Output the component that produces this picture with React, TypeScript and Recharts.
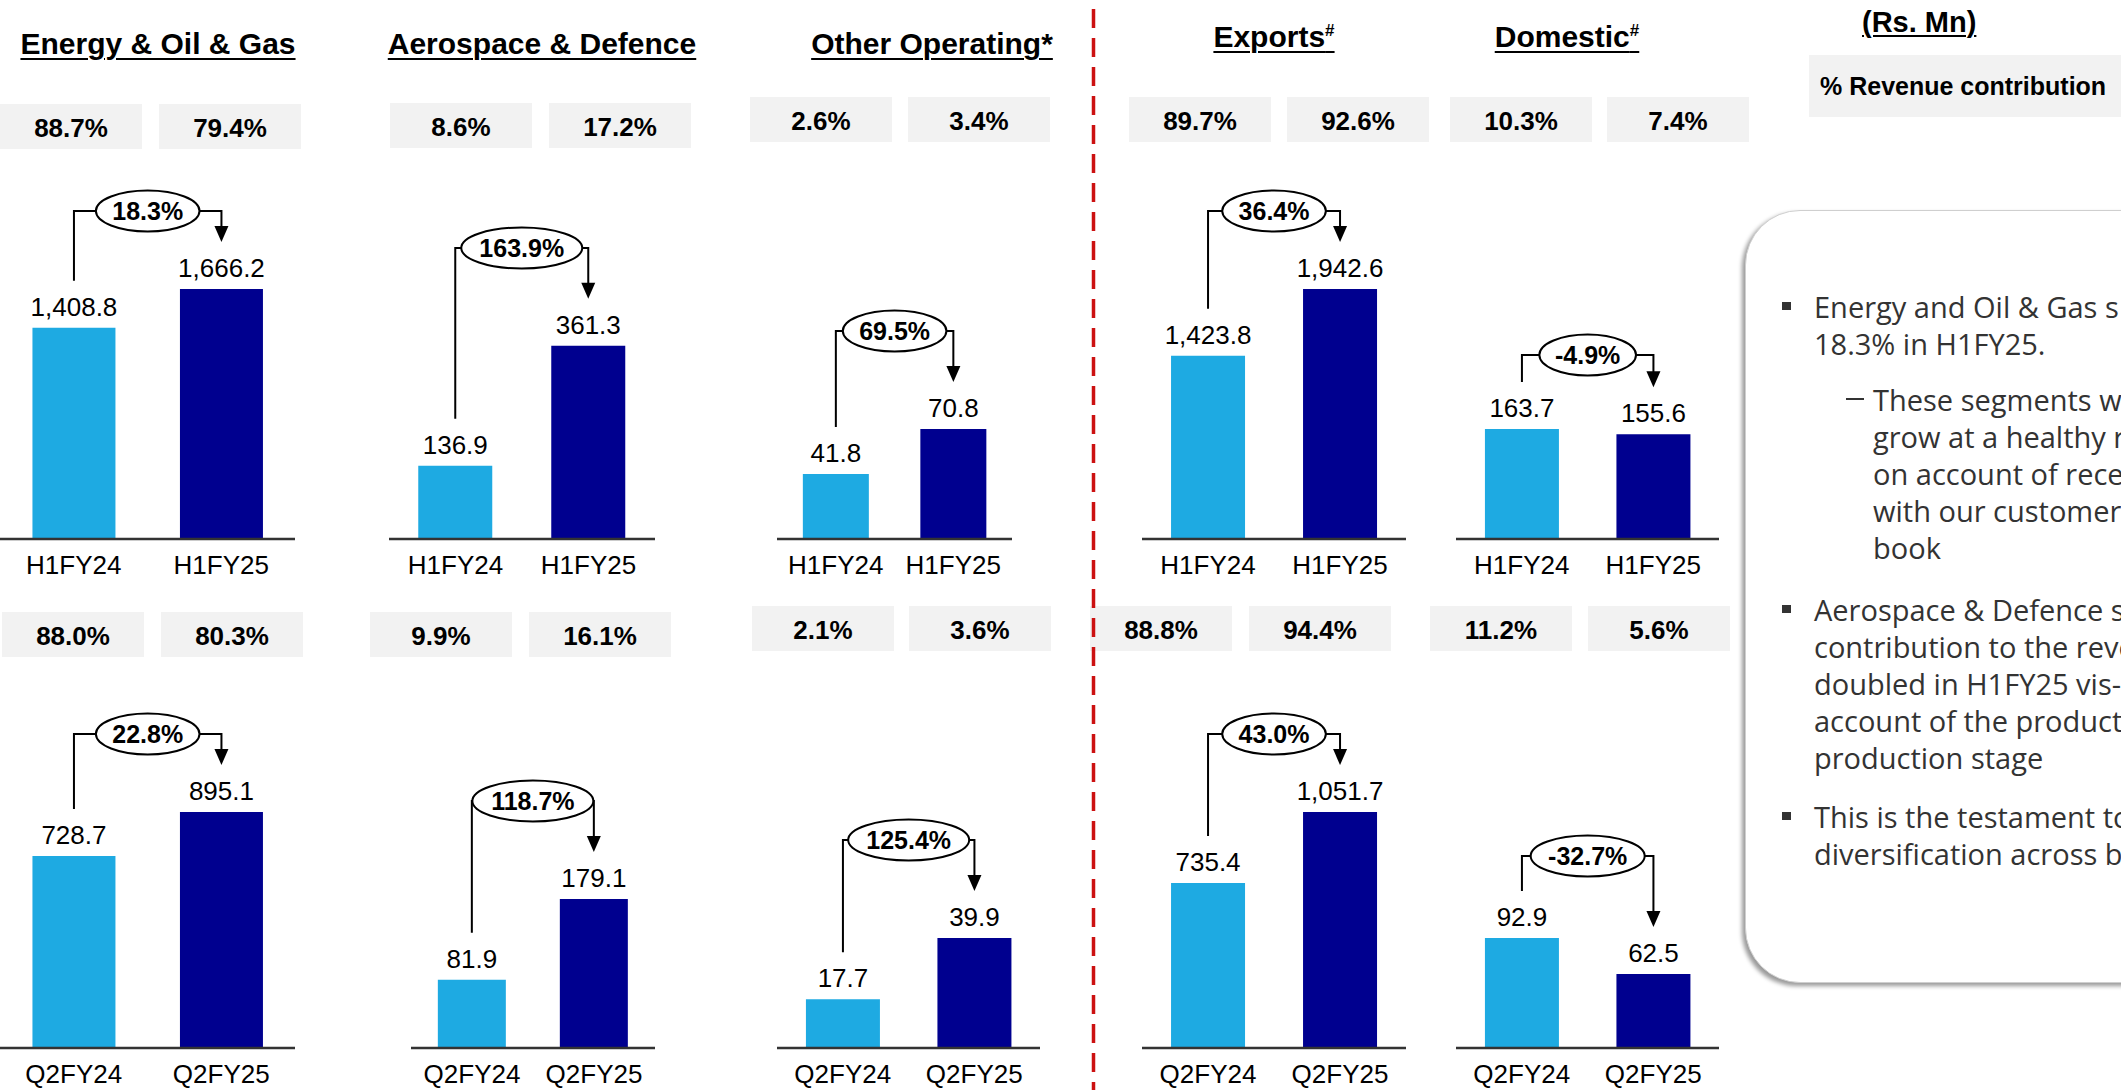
import React from "react";
import { BarChart, Bar, XAxis, YAxis, Cell, LabelList } from "recharts";

// ---- data ----
const H1_PERIODS = ["H1FY24", "H1FY25"];
const Q2_PERIODS = ["Q2FY24", "Q2FY25"];
const SEGMENTS = ["Energy & Oil & Gas", "Aerospace & Defence", "Other Operating*", "Exports", "Domestic"];
const SEGMENT_MARKS = ["", "", "", "#", "#"];

const H1_VALUES = [
  [1408.8, 1666.2],
  [136.9, 361.3],
  [41.8, 70.8],
  [1423.8, 1942.6],
  [163.7, 155.6],
];
const Q2_VALUES = [
  [728.7, 895.1],
  [81.9, 179.1],
  [17.7, 39.9],
  [735.4, 1051.7],
  [92.9, 62.5],
];
const H1_SHARE = [["88.7%", "79.4%"], ["8.6%", "17.2%"], ["2.6%", "3.4%"], ["89.7%", "92.6%"], ["10.3%", "7.4%"]];
const Q2_SHARE = [["88.0%", "80.3%"], ["9.9%", "16.1%"], ["2.1%", "3.6%"], ["88.8%", "94.4%"], ["11.2%", "5.6%"]];
const H1_GROWTH = ["18.3%", "163.9%", "69.5%", "36.4%", "-4.9%"];
const Q2_GROWTH = ["22.8%", "118.7%", "125.4%", "43.0%", "-32.7%"];

// ---- layout ----
const FONT = "'Liberation Sans', Arial, sans-serif";
const LIGHT = "#1eaae2";
const DARK = "#00008f";
const AXIS_H = 40;
const BOX_W = 142;
const BOX_H = 45;

const ROWS = [
  { chartTop: 150, chartHeight: 450, plotTop: 239, baseline: 539 },
  { chartTop: 660, chartHeight: 430, plotTop: 748, baseline: 1048 },
];

const TOP_LAYOUT = [
  { left: 0, right: 295, boxes: [0, 159], boxY: 104, arcY: 211, yMax: 2000 },
  { left: 389, right: 655, boxes: [390, 549], boxY: 103, arcY: 248, yMax: 561 },
  { left: 777, right: 1012, boxes: [750, 908], boxY: 97, arcY: 331, yMax: 193 },
  { left: 1142, right: 1406, boxes: [1129, 1287], boxY: 97, arcY: 211, yMax: 2331 },
  { left: 1456, right: 1719, boxes: [1450, 1607], boxY: 97, arcY: 355, yMax: 446 },
];
const BOTTOM_LAYOUT = [
  { left: 0, right: 295, boxes: [2, 161], boxY: 612, arcY: 734, yMax: 1138 },
  { left: 411, right: 655, boxes: [370, 529], boxY: 612, arcY: 801, yMax: 360.6 },
  { left: 777, right: 1040, boxes: [752, 909], boxY: 606, arcY: 840, yMax: 108.8 },
  { left: 1142, right: 1406, boxes: [1090, 1249], boxY: 606, arcY: 734, yMax: 1337 },
  { left: 1456, right: 1719, boxes: [1430, 1588], boxY: 606, arcY: 856, yMax: 253.4 },
];
const TITLE_POS = [
  { cx: 158, cy: 44 },
  { cx: 542, cy: 44 },
  { cx: 932, cy: 44 },
  { cx: 1274, cy: 37 },
  { cx: 1567, cy: 37 },
];

// commentary as it shows on the slide (runs off the right edge)
const NOTES = [
  { kind: "bullet", top: 306, lines: ["Energy and Oil & Gas s", "18.3% in H1FY25."] },
  {
    kind: "dash",
    top: 399,
    lines: ["These segments w", "grow at a healthy r", "on account of rece", "with our customer", "book"],
  },
  {
    kind: "bullet",
    top: 609,
    lines: [
      "Aerospace & Defence s",
      "contribution to the reve",
      "doubled in H1FY25 vis-",
      "account of the product",
      "production stage",
    ],
  },
  { kind: "bullet", top: 816, lines: ["This is the testament to", "diversification across b"] },
];

const fmt = (v: number) => v.toLocaleString("en-US", { minimumFractionDigits: 1, maximumFractionDigits: 1 });

function textWidth(s: string, size: number) {
  let w = 0;
  for (const ch of s) {
    if (ch === ".") w += 0.278;
    else if (ch === "%") w += 0.889;
    else if (ch === "-") w += 0.333;
    else w += 0.556;
  }
  return w * size;
}

function SegmentChart({ periods, values, growth, layout, row }: any) {
  const data = periods.map((p: string, i: number) => ({ period: p, value: values[i] }));
  const width = layout.right - layout.left;
  const marginTop = row.plotTop - row.chartTop;
  const marginBottom = row.chartTop + row.chartHeight - row.baseline - AXIS_H;
  const arcY = layout.arcY - row.chartTop;

  const renderLabel = (props: any) => {
    const vb = props.viewBox || props;
    const x = Number(vb.x ?? props.x);
    const y = Number(vb.y ?? props.y);
    const w = Number(vb.width ?? props.width);
    const h = Number(vb.height ?? props.height);
    const index = props.index;
    const cx = x + w / 2;
    const label = (
      <text x={cx} y={y - 12} textAnchor="middle" fontSize={26} fill="#000" fontFamily={FONT}>
        {fmt(values[index])}
      </text>
    );
    if (index !== 1) return label;
    // first bar geometry from the same linear scale
    const base = y + h;
    const y0 = base - (h * values[0]) / values[1];
    const x0 = cx - width / 2;
    const startY = y0 - 47;
    const tipY = y - 47;
    const ecx = (x0 + cx) / 2;
    const rx = (textWidth(growth, 25) * 1.25 + 15) / 2;
    return (
      <g>
        {label}
        <path
          d={`M${x0},${startY} L${x0},${arcY} L${cx},${arcY} L${cx},${tipY - 15}`}
          fill="none"
          stroke="#000"
          strokeWidth={2}
        />
        <path d={`M${cx - 7},${tipY - 16} L${cx + 7},${tipY - 16} L${cx},${tipY} Z`} fill="#000" />
        <ellipse cx={ecx} cy={arcY} rx={rx} ry={20.5} fill="#fff" stroke="#000" strokeWidth={2} />
        <text
          x={ecx}
          y={arcY + 9}
          textAnchor="middle"
          fontSize={25}
          fontWeight="bold"
          fill="#000"
          fontFamily={FONT}
        >
          {growth}
        </text>
      </g>
    );
  };

  return (
    <div style={{ position: "absolute", left: layout.left, top: row.chartTop }}>
      <BarChart
        width={width}
        height={row.chartHeight}
        data={data}
        margin={{ top: marginTop, right: 0, bottom: marginBottom, left: 0 }}
        barCategoryGap="22%"
      >
        <XAxis
          dataKey="period"
          axisLine={{ stroke: "#333", strokeWidth: 2.5 }}
          tickLine={false}
          tick={{ fill: "#000", fontSize: 26, fontFamily: FONT }}
          tickMargin={11}
          height={AXIS_H}
          interval={0}
        />
        <YAxis hide domain={[0, layout.yMax]} />
        <Bar dataKey="value" isAnimationActive={false}>
          {data.map((_: any, i: number) => (
            <Cell key={i} fill={i === 0 ? LIGHT : DARK} />
          ))}
          <LabelList content={renderLabel} />
        </Bar>
      </BarChart>
    </div>
  );
}

function ShareBoxes({ shares, layout }: any) {
  return (
    <>
      {shares.map((s: string, i: number) => (
        <div
          key={i}
          style={{
            position: "absolute",
            left: layout.boxes[i],
            top: layout.boxY,
            width: BOX_W,
            height: BOX_H,
            paddingTop: 4,
            boxSizing: "border-box",
            background: "#f2f2f2",
            display: "flex",
            alignItems: "center",
            justifyContent: "center",
            fontWeight: "bold",
            fontSize: 26,
            fontFamily: FONT,
            color: "#000",
          }}
        >
          {s}
        </div>
      ))}
    </>
  );
}

export default function App() {
  return (
    <div
      style={{
        position: "absolute",
        left: 0,
        top: 0,
        width: 2121,
        height: 1090,
        overflow: "hidden",
        background: "#fff",
        fontFamily: FONT,
      }}
    >
      {SEGMENTS.map((name, i) => (
        <div
          key={name}
          style={{
            position: "absolute",
            left: TITLE_POS[i].cx - 250,
            top: TITLE_POS[i].cy - 18,
            width: 500,
            lineHeight: "36px",
            textAlign: "center",
            fontSize: 30,
            fontWeight: "bold",
            textDecoration: "underline",
            textDecorationThickness: 2,
            textUnderlineOffset: 4,
            color: "#000",
            whiteSpace: "nowrap",
          }}
        >
          {name}
          {SEGMENT_MARKS[i] && (
            <span style={{ fontSize: 17, position: "relative", top: -11 }}>{SEGMENT_MARKS[i]}</span>
          )}
        </div>
      ))}

      {SEGMENTS.map((name, i) => (
        <React.Fragment key={"r" + name}>
          <ShareBoxes shares={H1_SHARE[i]} layout={TOP_LAYOUT[i]} />
          <ShareBoxes shares={Q2_SHARE[i]} layout={BOTTOM_LAYOUT[i]} />
          <SegmentChart
            periods={H1_PERIODS}
            values={H1_VALUES[i]}
            growth={H1_GROWTH[i]}
            layout={TOP_LAYOUT[i]}
            row={ROWS[0]}
          />
          <SegmentChart
            periods={Q2_PERIODS}
            values={Q2_VALUES[i]}
            growth={Q2_GROWTH[i]}
            layout={BOTTOM_LAYOUT[i]}
            row={ROWS[1]}
          />
        </React.Fragment>
      ))}

      {/* right header */}
      <div
        style={{
          position: "absolute",
          left: 1862,
          top: 4,
          lineHeight: "36px",
          fontWeight: "bold",
          fontSize: 29,
          textDecoration: "underline",
          textDecorationThickness: 2,
          textUnderlineOffset: 3,
          whiteSpace: "nowrap",
          color: "#000",
        }}
      >
        (Rs. Mn)
      </div>
      <div
        style={{
          position: "absolute",
          left: 1809,
          top: 55,
          width: 312,
          height: 62,
          background: "#f2f2f2",
          display: "flex",
          alignItems: "center",
          paddingLeft: 11,
          boxSizing: "border-box",
          fontWeight: "bold",
          fontSize: 25,
          whiteSpace: "nowrap",
          color: "#000",
        }}
      >
        % Revenue contribution
      </div>

      {/* commentary box */}
      <div
        style={{
          position: "absolute",
          left: 1745,
          top: 210,
          width: 520,
          height: 771,
          borderRadius: 55,
          border: "1.5px solid #cfcfcf",
          boxShadow: "-3px 3px 4px rgba(0,0,0,0.4)",
          background: "#fff",
        }}
      />
      {NOTES.map((n, k) => (
        <React.Fragment key={k}>
          {n.kind === "bullet" ? (
            <div
              style={{
                position: "absolute",
                left: 1782,
                top: n.top - 4,
                width: 9,
                height: 8,
                background: "#333",
              }}
            />
          ) : (
            <div
              style={{
                position: "absolute",
                left: 1846,
                top: n.top - 1,
                width: 18,
                height: 2,
                background: "#333",
              }}
            />
          )}
          {n.lines.map((line, j) => (
            <div
              key={j}
              style={{
                position: "absolute",
                left: n.kind === "bullet" ? 1814 : 1873,
                top: n.top - 18.5 + j * 37,
                lineHeight: "37px",
                fontSize: 29,
                fontFamily: "'Open Sans', sans-serif",
                color: "#333",
                whiteSpace: "pre",
              }}
            >
              {line}
            </div>
          ))}
        </React.Fragment>
      ))}

      {/* divider */}
      <svg style={{ position: "absolute", left: 1090, top: 0 }} width={8} height={1090}>
        <line x1={3.5} y1={9} x2={3.5} y2={1090} stroke="#cc1111" strokeWidth={3.5} strokeDasharray="19 10" />
      </svg>
    </div>
  );
}
